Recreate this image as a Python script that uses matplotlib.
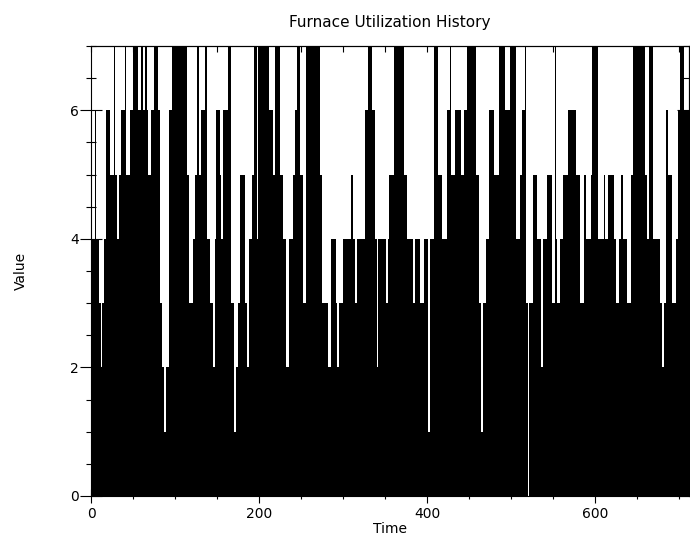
import matplotlib
matplotlib.use("Agg")
import matplotlib.pyplot as plt
from matplotlib.ticker import MultipleLocator

# istanti di cambio (tempo) e valore mantenuto fino al cambio successivo
tempi = [0, 4.5, 6, 9.5, 11.5, 13.5, 15.5, 18, 23, 27, 28, 30.5, 33, 36, 40, 42, 46, 50, 56, 59,
         62, 64, 66, 68, 71, 75, 80, 82, 85, 87,
         89, 93, 96, 114, 117, 121, 124, 126, 129, 131, 136, 138, 141, 145, 147, 149, 153, 155,
         157, 163, 166, 170, 172, 175, 177,
         179, 183, 186, 188, 191, 194, 197.5, 199, 212, 216, 219, 225, 228, 232, 235, 240, 243,
         245, 249, 252, 256,
         273, 275, 282, 286, 291, 292.5, 295, 300, 309.5, 311.5, 314.5, 316.5, 326.5, 329.5,
         334.5, 338.5, 340, 342, 351, 353, 355,
         360, 372, 376, 383, 386, 392, 396, 401, 403, 408, 413, 418, 424, 427, 428, 433, 440,
         444, 448, 458, 462, 464, 466, 470, 474, 480, 485, 493, 499, 506, 510, 513, 516, 518,
         519.5, 521, 526, 531, 536, 538, 543, 548, 552, 553.5, 555,
         558, 561.5, 568, 577, 582, 587, 589, 595, 596.5, 603, 610, 612, 615, 622, 625, 628,
         631, 633, 638, 642.5, 645.5, 659.5, 662, 664.5, 668.5, 677.5, 679, 682, 684.5, 687,
         691, 696, 699, 701, 706, 720]
valori = [4, 6, 4, 3, 2, 3, 4, 6, 5, 7, 5, 4, 5, 6, 7, 5, 6, 7, 6, 7,
          6, 7, 6, 5, 6, 7, 6, 3, 2, 1,
          2, 6, 7, 5, 3, 4, 5, 7, 5, 6, 7, 4, 3, 2, 4, 6, 5, 4,
          6, 7, 3, 1, 2, 3, 5,
          5, 3, 2, 4, 5, 7, 4, 7, 6, 5, 7, 5, 4, 2, 4, 5, 6,
          7, 5, 3, 7,
          5, 3, 2, 4, 3, 2, 3, 4, 5, 4, 3, 4, 6, 7,
          6, 4, 2, 4, 3, 4, 5,
          7, 5, 4, 3, 4, 3, 4, 1, 4, 7, 5, 4, 6, 7, 5, 6, 5,
          6, 7, 5, 3, 1, 3, 4, 6, 5, 7, 6, 7, 4, 5, 6, 7, 3,
          0, 3, 5, 4, 2, 4, 5, 3, 7, 4, 3,
          4, 5, 6, 5, 3, 5, 4, 5, 7, 4, 5, 4, 5, 4, 3, 4,
          5, 4, 3, 5, 7, 5, 4, 7, 4, 3, 2, 3, 6, 5,
          3, 4, 6, 7, 6, 6]

fig = plt.figure(figsize=(6.9, 5.48), dpi=100)
ax = fig.add_axes([0.132, 0.095, 0.867, 0.821])

ax.fill_between(tempi, valori, step="post", color="black", linewidth=0)

ax.set_xlim(0, 712)
ax.set_ylim(0, 7)
ax.xaxis.set_major_locator(MultipleLocator(200))
ax.xaxis.set_minor_locator(MultipleLocator(50))
ax.yaxis.set_major_locator(MultipleLocator(2))
ax.yaxis.set_minor_locator(MultipleLocator(0.5))
ax.tick_params(which="major", direction="inout", length=16, width=0.8, labelsize=10, pad=1)
ax.tick_params(which="minor", direction="inout", length=7, width=0.8)
ax.tick_params(axis="x", which="major", length=10, pad=3)
ax.tick_params(axis="x", which="minor", length=5)

alto = ax.secondary_xaxis("top")
alto.xaxis.set_major_locator(MultipleLocator(200))
alto.xaxis.set_minor_locator(MultipleLocator(50))
alto.tick_params(which="both", direction="in", length=4, width=0.8, labeltop=False)
destra = ax.secondary_yaxis("right")
destra.yaxis.set_major_locator(MultipleLocator(2))
destra.yaxis.set_minor_locator(MultipleLocator(0.5))
destra.tick_params(which="major", direction="in", length=9, width=0.8, labelright=False)
destra.tick_params(which="minor", direction="in", length=4, width=0.8)

for s in ax.spines.values():
    s.set_linewidth(0.8)

ax.set_title("Furnace Utilization History", fontsize=11, pad=14)
ax.set_xlabel("Time", fontsize=10, labelpad=1)
ax.set_ylabel("Value", fontsize=10, labelpad=30)

plt.savefig("out.png", dpi=100)
